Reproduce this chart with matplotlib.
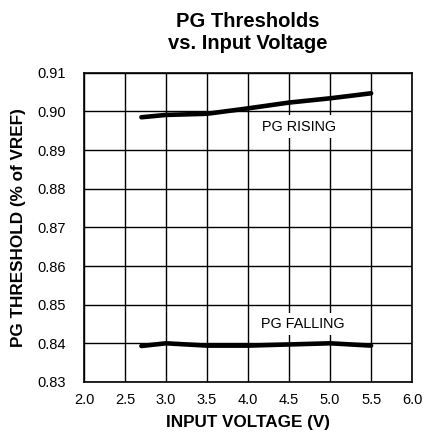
import matplotlib.pyplot as plt

plt.rcParams['font.family'] = ['Liberation Sans', 'DejaVu Sans']

# data
vin = [2.7, 3.0, 3.5, 4.0, 4.5, 5.0, 5.5]
pg_rising = [0.8985, 0.8991, 0.8994, 0.9008, 0.9023, 0.9034, 0.9047]
pg_falling = [0.8393, 0.8400, 0.8394, 0.8394, 0.8397, 0.8400, 0.8394]

x_ticks = [2.0, 2.5, 3.0, 3.5, 4.0, 4.5, 5.0, 5.5, 6.0]
y_ticks = [0.83, 0.84, 0.85, 0.86, 0.87, 0.88, 0.89, 0.90, 0.91]

fig = plt.figure(figsize=(4.24, 4.36), dpi=100)
ax = fig.add_axes([0.198, 0.124, 0.774, 0.709])
ax.set_axisbelow(True)

ax.plot(vin, pg_rising, color='black', lw=3.3, solid_capstyle='round', zorder=3)
ax.plot(vin, pg_falling, color='black', lw=3.3, solid_capstyle='round', zorder=3)

ax.set_xlim(2.0, 6.0)
ax.set_ylim(0.83, 0.91)
ax.set_xticks(x_ticks)
ax.set_xticklabels(['%.1f' % v for v in x_ticks])
ax.set_yticks(y_ticks)
ax.set_yticklabels(['%.2f' % v for v in y_ticks])
ax.grid(True, color='black', lw=1.0, zorder=0)
ax.tick_params(length=0, labelsize=10.5)
ax.tick_params(axis='x', pad=8)
ax.tick_params(axis='y', pad=13)
for s in ax.spines.values():
    s.set_linewidth(1.2)

ax.text(4.62, 0.8961, 'PG RISING', ha='center', va='center', fontsize=10.4,
        bbox=dict(facecolor='white', edgecolor='none', pad=3), zorder=5)
ax.text(4.67, 0.8450, 'PG FALLING', ha='center', va='center', fontsize=10.4,
        bbox=dict(facecolor='white', edgecolor='none', pad=3), zorder=5)

ax.set_xlabel('INPUT VOLTAGE (V)', fontsize=12.3, fontweight='bold', labelpad=6)
ax.set_ylabel('PG THRESHOLD (% of VREF)', fontsize=12.3, fontweight='bold', labelpad=8)
ax.set_title('PG Thresholds\nvs. Input Voltage', fontsize=14.5, fontweight='bold', pad=17)

fig.savefig('out.png', dpi=100)
